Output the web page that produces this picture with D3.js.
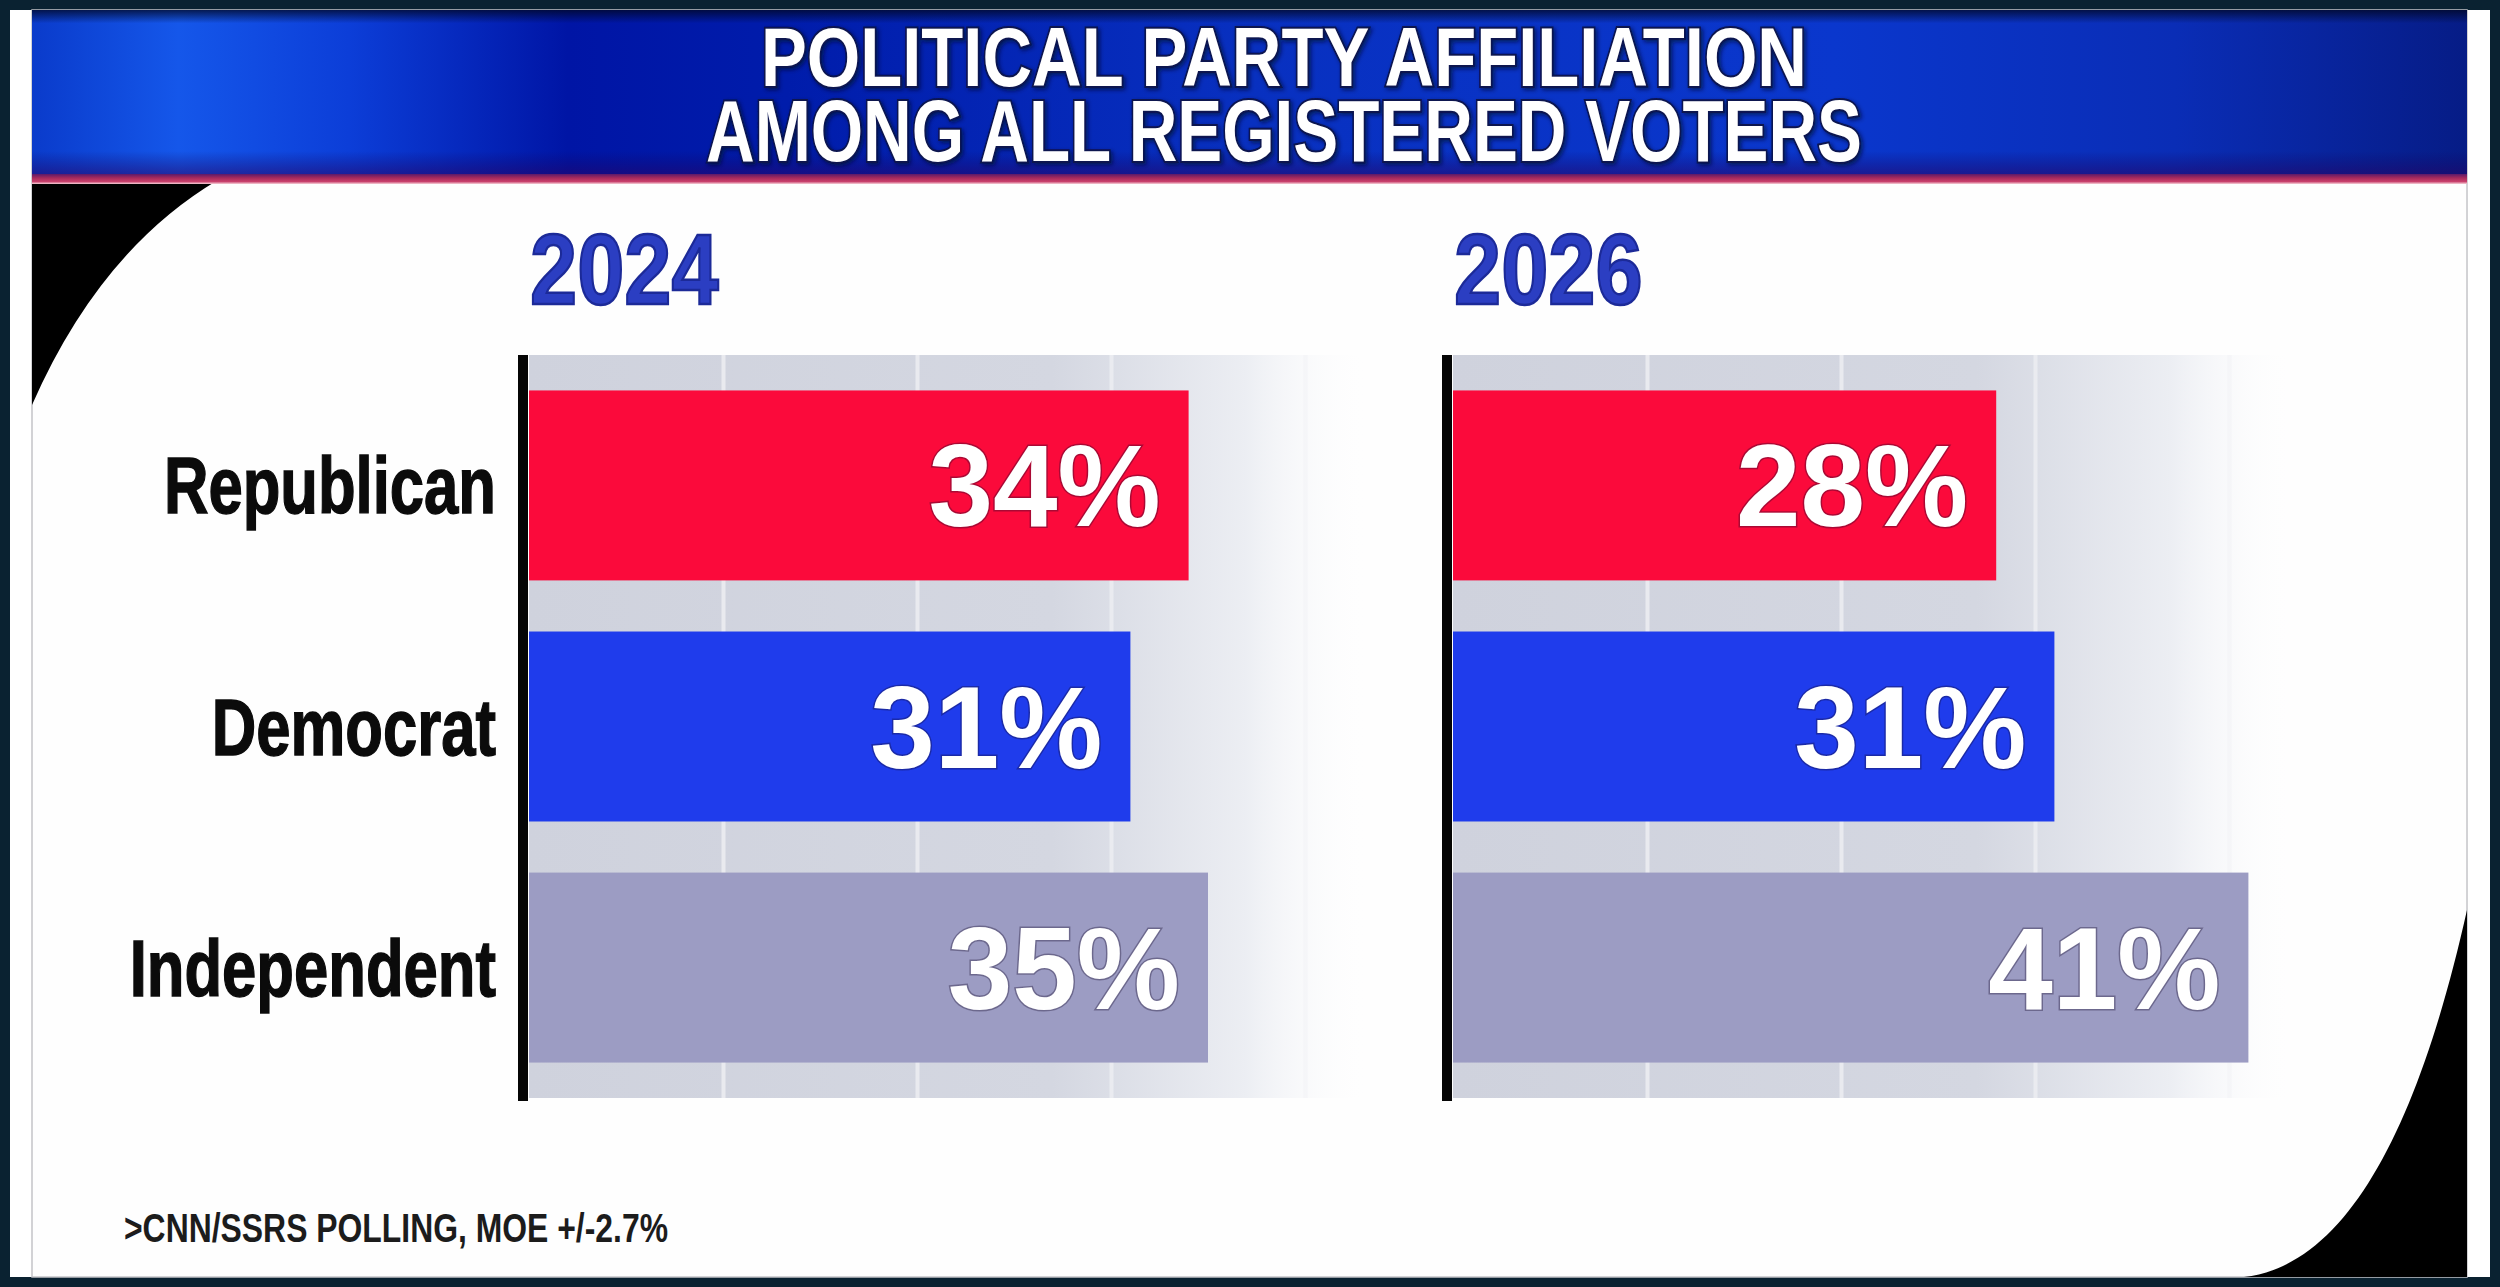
<!DOCTYPE html>
<html>
<head>
<meta charset="utf-8">
<script src="https://cdn.jsdelivr.net/npm/d3@7"></script>
<style>
  html, body { margin: 0; padding: 0; background: #0a2231; }
  svg { display: block; }
</style>
</head>
<body>
<div id="chart"></div>
<script>
// chart values
var titleLines = ["POLITICAL PARTY AFFILIATION", "AMONG ALL REGISTERED VOTERS"];
var years = ["2024", "2026"];
var parties = ["Republican", "Democrat", "Independent"];
var values2024 = [34, 31, 35];
var values2026 = [28, 31, 41];
var gridTicks = [10, 20, 30, 40];
var footnote = ">CNN/SSRS POLLING, MOE +/-2.7%";

(function () {
  var W = 2500, H = 1287;
  var innerL = 32, innerR = 2467, innerB = 1277;
  var bandTop = 355, bandBot = 1098;
  var panelX = [529, 1453];
  var series = [values2024, values2026];
  var partyColor = d3.scaleOrdinal().domain(parties)
    .range(["#fb0a3b", "#1f3cec", "#9c9cc3"]);
  var sans = "'Liberation Sans', Arial, Helvetica, sans-serif";
  var narrow = "'Liberation Sans Narrow', 'Liberation Sans', Arial, sans-serif";

  var svg = d3.select("#chart").append("svg")
    .attr("width", W).attr("height", H)
    .attr("viewBox", "0 0 " + W + " " + H);
  var defs = svg.append("defs");

  // horizontal banner gradient: bright left, deep navy patch, lighter centre
  var bg = defs.append("linearGradient").attr("id", "banner");
  [[0, "#0a3bcb"], [0.06, "#1557ea"], [0.13, "#0c3ed8"], [0.22, "#0015a5"],
   [0.31, "#001cab"], [0.5, "#0830c0"], [0.74, "#0a37cd"], [0.88, "#0a2db6"],
   [1, "#061c86"]].forEach(function (s) {
    bg.append("stop").attr("offset", s[0]).attr("stop-color", s[1]);
  });
  var shade = defs.append("linearGradient").attr("id", "bannerShade")
    .attr("x1", 0).attr("y1", 0).attr("x2", 0).attr("y2", 1);
  [[0, "#000620", 0.75], [0.08, "#000620", 0], [0.85, "#10005a", 0],
   [1, "#2a0060", 0.55]].forEach(function (s) {
    shade.append("stop").attr("offset", s[0]).attr("stop-color", s[1])
      .attr("stop-opacity", s[2]);
  });
  var stripe = defs.append("linearGradient").attr("id", "stripe")
    .attr("x1", 0).attr("y1", 0).attr("x2", 0).attr("y2", 1);
  [[0, "#5a1a6a"], [0.4, "#a82a5c"], [0.75, "#c8406c"], [1, "#f6d0d8"]]
    .forEach(function (s) {
      stripe.append("stop").attr("offset", s[0]).attr("stop-color", s[1]);
    });
  // grey track behind bars, fading out to the right
  var track = defs.append("linearGradient").attr("id", "track");
  [[0, "#cfd2dd", 1], [0.62, "#d4d7e1", 1], [0.85, "#eceef3", 1],
   [1, "#ffffff", 0]].forEach(function (s) {
    track.append("stop").attr("offset", s[0]).attr("stop-color", s[1])
      .attr("stop-opacity", s[2]);
  });
  var ds = defs.append("filter").attr("id", "tshadow")
    .attr("x", "-5%").attr("y", "-20%").attr("width", "110%").attr("height", "140%");
  ds.append("feDropShadow").attr("dx", 2).attr("dy", 2).attr("stdDeviation", 2)
    .attr("flood-color", "#000a30").attr("flood-opacity", 0.7);

  // frame + white card
  svg.append("rect").attr("width", W).attr("height", H).attr("fill", "#0a2231");
  svg.append("rect").attr("x", 10).attr("y", 10)
    .attr("width", W - 20).attr("height", innerB - 10).attr("fill", "#ffffff");
  svg.append("rect").attr("x", innerL).attr("y", 10)
    .attr("width", innerR - innerL).attr("height", innerB - 10)
    .attr("fill", "#fefefe").attr("stroke", "#c4c4c8").attr("stroke-width", 1.5);

  // black swooshes in the corners
  svg.append("path").attr("d", "M" + innerL + ",180 L218,180 Q100,250 " + innerL + ",405 Z")
    .attr("fill", "#000");
  svg.append("path").attr("d", "M" + innerR + ",910 C2420,1120 2350,1265 2244," + innerB +
      " L" + innerR + "," + innerB + " Z")
    .attr("fill", "#000");

  // banner
  svg.append("rect").attr("x", innerL).attr("y", 10)
    .attr("width", innerR - innerL).attr("height", 166).attr("fill", "url(#banner)");
  svg.append("rect").attr("x", innerL).attr("y", 10)
    .attr("width", innerR - innerL).attr("height", 166).attr("fill", "url(#bannerShade)");
  svg.append("rect").attr("x", innerL).attr("y", 174)
    .attr("width", innerR - innerL).attr("height", 10).attr("fill", "url(#stripe)");

  // two-line title as one text block
  var titleLen = [1046, 1156];
  svg.append("text")
    .attr("text-anchor", "middle")
    .attr("font-family", narrow).attr("font-weight", "bold")
    .attr("fill", "#ffffff")
    .attr("stroke", "#0a1450").attr("stroke-width", 4)
    .attr("paint-order", "stroke")
    .attr("filter", "url(#tshadow)")
    .selectAll("tspan").data(titleLines).join("tspan")
    .attr("x", 1284)
    .attr("y", function (d, i) { return i === 0 ? 86 : 161; })
    .attr("font-size", function (d, i) { return i === 0 ? 83 : 87; })
    .attr("textLength", function (d, i) { return titleLen[i]; })
    .attr("lengthAdjust", "spacingAndGlyphs")
    .text(function (d) { return d; });

  function squeeze(sel, k) {
    sel.each(function () {
      var w = this.getComputedTextLength();
      d3.select(this).attr("textLength", w * k)
        .attr("lengthAdjust", "spacingAndGlyphs");
    });
  }

  var x = d3.scaleLinear().domain([0, 40]).range([0, 776]);
  var y = d3.scaleBand().domain(parties).range([bandTop, bandBot])
    .paddingInner(0.212).paddingOuter(0.147);

  // category labels
  var cats = svg.append("g").selectAll("text").data(parties).join("text")
    .attr("x", 496)
    .attr("y", function (d) { return y(d) + y.bandwidth() / 2 + 28; })
    .attr("text-anchor", "end")
    .attr("font-family", sans).attr("font-weight", "bold")
    .attr("font-size", 79).attr("fill", "#0b0b0b")
    .attr("stroke", "#0b0b0b").attr("stroke-width", 1.4)
    .text(function (d) { return d; });
  squeeze(cats, 0.78);

  years.forEach(function (yr, pi) {
    var g = svg.append("g").attr("transform", "translate(" + panelX[pi] + ",0)");
    var vals = series[pi];

    var yl = g.append("text").attr("x", 1).attr("y", 304)
      .attr("font-family", sans).attr("font-weight", "bold")
      .attr("font-size", 101).attr("fill", "#2b3ec2")
      .attr("stroke", "#1c2a98").attr("stroke-width", 2.5)
      .text(yr);
    squeeze(yl, 0.84);

    g.append("rect").attr("x", 0).attr("y", bandTop)
      .attr("width", x(43.5)).attr("height", bandBot - bandTop)
      .attr("fill", "url(#track)");

    // gridlines from the library axis
    var grid = g.append("g").attr("transform", "translate(0," + bandTop + ")")
      .call(d3.axisTop(x).tickValues(gridTicks).tickFormat("")
        .tickSize(-(bandBot - bandTop)));
    grid.select(".domain").remove();
    grid.selectAll(".tick line")
      .attr("stroke", "#ebecf1").attr("stroke-width", 4)
      .attr("stroke-opacity", function (d) { return d >= 40 ? 0.25 : 0.9; });

    g.append("g").selectAll("rect").data(parties).join("rect")
      .attr("x", 0)
      .attr("y", function (d) { return y(d); })
      .attr("width", function (d, i) { return x(vals[i]); })
      .attr("height", y.bandwidth())
      .attr("fill", function (d) { return partyColor(d); });

    g.append("g").selectAll("text").data(parties).join("text")
      .attr("x", function (d, i) { return x(vals[i]) - 28; })
      .attr("y", function (d) { return y(d) + y.bandwidth() / 2 + 41; })
      .attr("text-anchor", "end")
      .attr("font-family", sans).attr("font-weight", "bold")
      .attr("font-size", 116).attr("fill", "#ffffff")
      .attr("stroke", "rgba(20,10,40,0.35)").attr("stroke-width", 3)
      .attr("paint-order", "stroke")
      .text(function (d, i) { return vals[i] + "%"; });

    // black baseline
    g.append("rect").attr("x", -11).attr("y", bandTop)
      .attr("width", 10).attr("height", bandBot - bandTop + 3)
      .attr("fill", "#050505");
  });

  svg.append("text").attr("x", 124).attr("y", 1242)
    .attr("font-family", narrow).attr("font-weight", "bold")
    .attr("font-size", 40).attr("fill", "#1c1c1c")
    .attr("textLength", 544).attr("lengthAdjust", "spacingAndGlyphs")
    .text(footnote);
})();
</script>
</body>
</html>
